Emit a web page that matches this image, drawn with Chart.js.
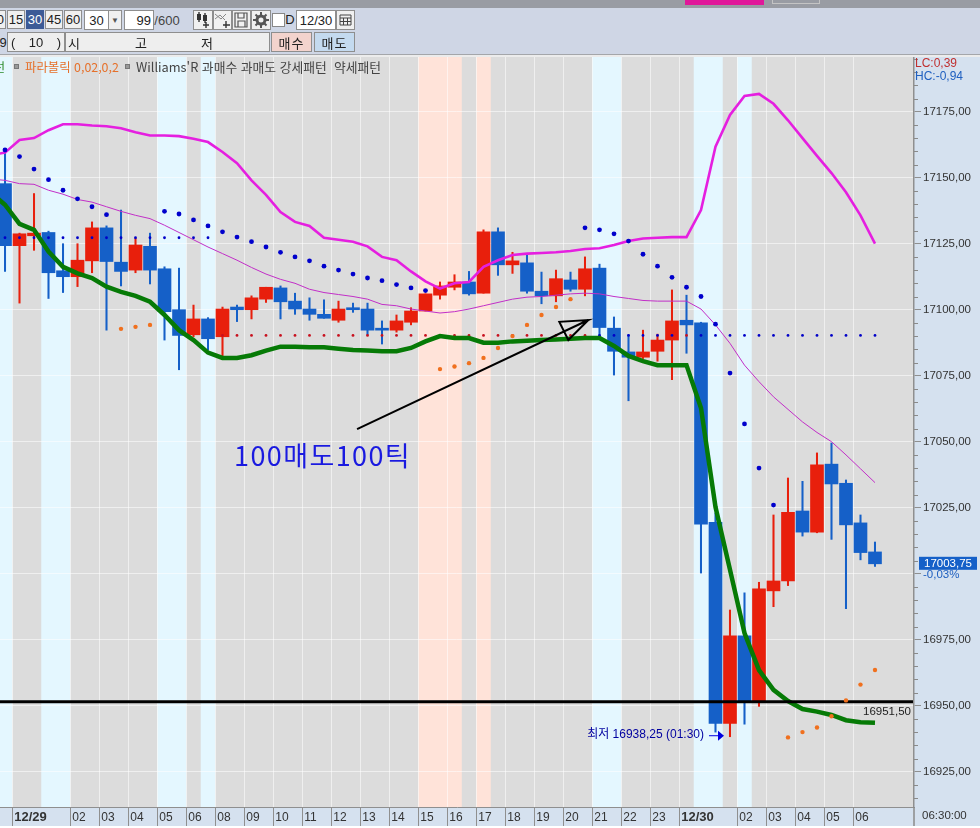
<!DOCTYPE html>
<html lang="ko"><head><meta charset="utf-8">
<script src="https://cdn.jsdelivr.net/npm/chart.js@4"></script>
<style>
html,body{margin:0;padding:0;width:980px;height:828px;overflow:hidden;background:#fff}
#c{position:absolute;left:0;top:0}
.t{position:absolute;box-sizing:border-box;font:13px "Liberation Sans","Noto Sans CJK KR",sans-serif;color:#222;white-space:pre;display:flex;align-items:center;justify-content:center}
.b{border:1px solid #8e8e8e;background:#f0f0f0}
.k{font-family:"Noto Sans CJK KR",sans-serif;font-size:13px}
</style></head><body>
<canvas id="c" width="980" height="828"></canvas>
<div class="t" style="left:0;top:0;width:980px;height:8px;background:#999ca3"></div>
<div class="t" style="left:685px;top:0;width:79px;height:5px;background:#e0189a"></div>
<div class="t" style="left:772px;top:0;width:48px;height:4px;border:1px solid #c4c4c4;border-top:0"></div>
<div class="t" style="left:0;top:8px;width:980px;height:46px;background:#cfd6e5"></div>
<div class="t" style="left:0;top:54px;width:980px;height:1px;background:#a4a6aa"></div>
<div class="t" style="left:0;top:55px;width:980px;height:2px;background:#ececec"></div>
<div class="t b" style="left:-12px;top:10px;width:18px;height:19px;justify-content:flex-end;padding-right:1px">0</div>
<div class="t b" style="left:7px;top:10px;width:18px;height:19px">15</div>
<div class="t" style="left:26px;top:10px;width:18px;height:19px;background:#3c5a96;color:#fff">30</div>
<div class="t b" style="left:45px;top:10px;width:18px;height:19px">45</div>
<div class="t b" style="left:64px;top:10px;width:18px;height:19px">60</div>
<div class="t b" style="left:84px;top:10px;width:25px;height:20px;background:#fff">30</div>
<div class="t b" style="left:108px;top:10px;width:14px;height:20px;font-size:8px;color:#555">▼</div>
<div class="t b" style="left:124px;top:10px;width:30px;height:20px;background:#fff;justify-content:flex-end;padding-right:2px">99</div>
<div class="t" style="left:155px;top:10px;width:24px;height:20px;color:#444">/600</div>
<div class="t b" style="left:193px;top:10px;width:20px;height:20px"><svg width="18" height="18"><rect x="3" y="3" width="4" height="6" fill="#333"/><rect x="9" y="4" width="4" height="6" fill="#333"/><path d="M5 1V11M11 2V12M12 11V17M9 14H15" stroke="#333" stroke-width="1.4" fill="none"/></svg></div>
<div class="t b" style="left:213px;top:10px;width:19px;height:20px"><svg width="17" height="18"><path d="M1 3L7 8L12 3M1 8L6 4L11 9" stroke="#888" fill="none"/><path d="M12 10V17M9 14H16" stroke="#333" stroke-width="1.4"/></svg></div>
<div class="t b" style="left:232px;top:10px;width:19px;height:20px"><svg width="17" height="18"><path d="M2 2H14V16H2Z M5 2V7H11V2 M5 16V10H12V16" stroke="#555" stroke-width="1.2" fill="none"/></svg></div>
<div class="t b" style="left:251px;top:10px;width:20px;height:20px"><svg width="18" height="18"><circle cx="9" cy="9" r="4" stroke="#555" stroke-width="3" fill="none"/><path d="M9 1V4M9 14V17M1 9H4M14 9H17M3.5 3.5L5.5 5.5M12.5 12.5L14.5 14.5M3.5 14.5L5.5 12.5M12.5 5.5L14.5 3.5" stroke="#555" stroke-width="2"/></svg></div>
<div class="t" style="left:272px;top:13px;width:13px;height:14px;background:#fff;border:1px solid #888"></div>
<div class="t" style="left:286px;top:10px;width:8px;height:18px">D</div>
<div class="t b" style="left:296px;top:10px;width:40px;height:20px;background:#fff">12/30</div>
<div class="t b" style="left:336px;top:10px;width:19px;height:20px"><svg width="15" height="14"><path d="M2 2H13V12H2Z M2 5H13 M2 8.5H13 M5.5 5V12 M9.5 5V12" stroke="#444" fill="none"/></svg></div>
<div class="t" style="left:0;top:32px;width:6px;height:20px">9</div>
<div class="t b" style="left:7px;top:32px;width:58px;height:20px;background:#eeeeee;justify-content:space-between;padding:0 3px"><span>(</span><span>10</span><span>)</span></div>
<div class="t b k" style="left:65px;top:32px;width:205px;height:20px;background:#eeeeee"></div>
<div class="t k" style="left:67px;top:32px;width:14px;height:20px">시</div>
<div class="t k" style="left:134px;top:32px;width:14px;height:20px">고</div>
<div class="t k" style="left:200px;top:32px;width:14px;height:20px">저</div>
<div class="t b k" style="left:271px;top:32px;width:41px;height:20px;background:#f3d3cd;letter-spacing:1px">매수</div>
<div class="t b k" style="left:314px;top:32px;width:41px;height:20px;background:#c4daef;letter-spacing:1px">매도</div>
<div class="t k" style="left:-6px;top:59px;height:15px;font-size:12px;color:#2a8a2a">선</div>
<div class="t" style="left:14px;top:64px;width:5px;height:5px;background:#999;border:1px solid #777"></div>
<div class="t k" style="left:25px;top:59px;height:15px;font-size:12.4px;color:#e6702a">파라볼릭 0,02,0,2</div>
<div class="t" style="left:125px;top:64px;width:5px;height:5px;background:#999;border:1px solid #777"></div>
<div class="t k" style="left:136px;top:59px;height:15px;font-size:12.8px;color:#444">Williams'R 과매수 과매도 강세패턴  약세패턴</div>
<script>
const opens=[17147.75,17124.25,17128,17129.25,17114.75,17112.5,17118.5,17131,17118,17115,17124,17115.5,17100,17090.5,17096.5,17089.75,17101,17100,17104,17108.25,17103.25,17100.25,17098.25,17096,17100.75,17100.25,17093,17092.25,17095.25,17099.5,17105.5,17108.5,17110.5,17106.25,17129.5,17117,17117.75,17107,17105.25,17111.25,17107.75,17115.75,17093,17084,17082,17084.25,17088.5,17096,17095,17019.5,16943.25,16976.5,16951.5,16993.5,16997.25,17023.75,17015.75,17041.5,17034.25,17019.25,17008.25];
const closes=[17124.25,17128.75,17129,17114,17112.5,17118.75,17131,17118.25,17114.5,17124.5,17115,17099.25,17090.25,17096.5,17089,17100.25,17100,17104.5,17108.5,17103,17100.25,17098.25,17096.75,17100.25,17100,17092.25,17092.25,17095.75,17099.5,17106,17109,17110.5,17106,17129.5,17117,17118.5,17107,17105.25,17111.75,17107.75,17115.5,17093.25,17084.25,17082,17084,17088.5,17095.75,17094.25,17018.75,16943.25,16976.5,16951.5,16994.25,16997.25,17023.25,17015.75,17041.25,17034,17018.5,17008,17003.75];
const highs=[17159.75,17129,17144,17129.75,17125,17125,17133.25,17131.75,17137.75,17127,17129,17116.25,17115.75,17101.75,17097,17101,17101.75,17105.25,17108.5,17109,17106.25,17104.5,17103.75,17103.25,17102.5,17102.5,17095.75,17098,17100.75,17106,17110.5,17113.25,17114.5,17130.25,17131,17121.75,17120.75,17114.25,17115,17114.25,17120,17117.25,17097.25,17090.5,17092.25,17090.75,17107.5,17105.5,17095.25,17023,16986.25,16992.75,16996.75,17022.25,17036.25,17035,17045.75,17049.5,17035.5,17022.25,17012];
const lows=[17114.5,17102.5,17122.5,17104.25,17106.5,17108.75,17114,17092.25,17109,17114,17109.75,17088.5,17077.25,17089.75,17084.75,17082.25,17095.5,17096.5,17102.75,17096.5,17098.25,17096,17096.75,17095.25,17099,17090.5,17087,17091.5,17094.25,17099.5,17104,17107.5,17105.5,17106.25,17113,17113.75,17106.25,17102.25,17103,17107,17105.25,17090,17075.25,17065.5,17081.5,17080.5,17073.5,17083.5,17000.25,16940,16938.25,16943,16949.75,16987.5,16995.5,17014.25,17015.5,17013,16986.75,17005.25,17002.75];
// moving lines: first value belongs to index -1 (just left of the visible edge)
const greenMA=[17144.5,17139.75,17132.5,17130.25,17122,17116.25,17113.75,17112,17108.75,17106.75,17105.25,17103,17098,17092.25,17088.5,17083.75,17081.75,17081.75,17082.75,17084.5,17086,17086,17085.75,17085.75,17085.25,17084.75,17084.5,17084.25,17084.25,17085.5,17088,17090,17089.25,17089.25,17087.5,17087.5,17088,17088.25,17088.5,17088.75,17089,17089.25,17089.25,17086.25,17082.5,17080.5,17079,17079,17079,17062.75,17025.25,17001.5,16977.5,16963.5,16956,16951.75,16948.75,16947.75,16946.5,16944.5,16943.75,16943.5];
const upperBand=[17158.5,17159.5,17164.25,17165,17168,17170.25,17170.25,17169.75,17169.5,17168.75,17167.25,17166,17166,17165.75,17164.75,17163.5,17159.75,17155.5,17149,17143.5,17137,17133.25,17131.75,17127.25,17126.5,17125.75,17124,17120,17118.75,17114.5,17110.75,17108,17110,17110.5,17116.25,17118.75,17120.75,17121.25,17121.5,17121.75,17122.25,17123,17123.25,17124.5,17126,17127,17127.25,17127.5,17127.5,17137.75,17161.75,17173.75,17181,17181.75,17178,17171.75,17165,17158.25,17151.75,17144.5,17135.75,17125];
const thinMA=[17149.5,17149,17147.75,17147.5,17145.25,17143.75,17141.75,17140.75,17139,17137.25,17135.75,17134.5,17132,17129.25,17126.5,17123.75,17121.25,17118.75,17116,17113.5,17111.5,17110,17107.75,17106.5,17105.75,17105,17104,17102,17101.5,17100.25,17099.5,17098.75,17099.25,17100.25,17101.5,17102.75,17104,17104.75,17105,17105.5,17106,17106.25,17106,17105,17104.25,17103.5,17103.25,17103.25,17103.25,17100.25,17094.25,17087.25,17079,17072.75,17067,17062.25,17057.5,17053.5,17050,17045,17039.75,17034.5];
const sarBlueIdx=[0,1,2,3,4,5,6,7,11,12,13,14,15,16,17,18,19,20,21,22,23,24,25,26,27,28,29,40,41,42,43,44,45,46,47,48,49,50,51,52,53];
const sarBlueVal=[17160.5,17158,17153.25,17149.25,17145.25,17142,17139,17136,17137.25,17136.25,17134,17131.75,17129.5,17127.5,17125.75,17123.75,17121.75,17120,17118.5,17116.5,17115,17113.5,17112,17111,17109.5,17108.25,17107.25,17131,17130.25,17128.75,17126,17121,17116.5,17112.25,17108.5,17105,17094.5,17076,17056.75,17040,17026];
const sarOrangeIdx=[8,9,10,30,31,32,33,34,35,36,37,38,39,54,55,56,57,58,59,60];
const sarOrangeVal=[17092.75,17093.5,17094.25,17077.5,17078.5,17079.75,17081.75,17085.5,17090,17094.25,17098,17101,17104,16938,16940,16941.75,16946,16952,16958,16963.5];
const stopHighIdx=[0,1,2,3,4,5,6,7,8,9,10,11,12,13,14];
const stopHighLevel=17127.25;
const stopRedIdx=[15,16,17,18,19,20,21,22,23,24,25,26,27,28,29,30,31,32,33,34,35,36,37,38,39,40,47];
const stopBlueIdx=[41,42,43,44,45,46,48,49,50,51,52,53,54,55,56,57,58,59,60];
const stopLowLevel=17090.25;
const lowPrice=16938.25, lowIndex=50, lineLevel=16951.5, lastPrice=17003.75;
const trendArrow=[[24.28,17054.75],[40.23,17096.1],[38.23,17095.4],[38.85,17088.5],[40.23,17096.1]];
const yTicks=[16925,16950,16975,17000,17025,17050,17075,17100,17125,17150,17175];
const hiddenLabel=17000;
const yMinor=[16915,16920,16930,16935,16940,16945,16955,16960,16965,16970,16980,16985,16990,16995,17005,17010,17015,17020,17030,17035,17040,17045,17055,17060,17065,17070,17080,17085,17090,17095,17105,17110,17115,17120,17130,17135,17140,17145,17155,17160,17165,17170,17180,17185,17190,17195];
const xTickPos=[0.5,4.5,6.5,8.5,10.5,12.5,14.5,16.5,18.5,20.5,22.5,24.5,26.5,28.5,30.5,32.5,34.5,36.5,38.5,40.5,42.5,44.5,46.5,50.5,52.5,54.5,56.5,58.5];
const xTickText=['12/29','02','03','04','05','06','08','09','10','11','12','13','14','15','16','17','18','19','20','21','22','23','12/30','02','03','04','05','06'];
const blueBands=[[-1,0.5],[2.5,4.5],[10.5,12.5],[13.5,14.5],[40.5,42.5],[47.5,49.5],[50.5,51.5]];
const pinkBands=[[28.5,31.5],[32.5,33.5]];
const xMin=-0.345,xMax=62.69,yMin=16911.63,yMax=17195.72;

const RED='#e81f0c',BLUE='#1560c8';
const isUp=i=>closes[i]>=opens[i];
const FONT='"Liberation Sans",sans-serif';
const panel={id:'panel',
 beforeDraw(ch){
  const c=ch.ctx,a=ch.chartArea,x=ch.scales.x;
  c.save();
  c.fillStyle='#dcdcdc';c.fillRect(a.left,a.top,a.right-a.left,a.bottom-a.top);
  const band=(list,col)=>{c.fillStyle=col;list.forEach(b=>{const l=Math.max(x.getPixelForValue(b[0]),a.left),r=x.getPixelForValue(b[1]);c.fillRect(l,a.top,r-l,a.bottom-a.top);});};
  band(blueBands,'#e4f7ff');band(pinkBands,'#ffe3d9');
  c.fillStyle='#d5e1ef';
  c.fillRect(a.right,a.top,980-a.right,a.bottom-a.top);
  c.fillRect(0,a.bottom,980,19);
  c.restore();
 },
 afterDraw(ch){
  const c=ch.ctx,a=ch.chartArea,x=ch.scales.x,y=ch.scales.y;
  c.save();
  c.strokeStyle='#8a8a8a';c.lineWidth=1;
  yMinor.forEach(v=>{const p=Math.round(y.getPixelForValue(v))+.5;c.beginPath();c.moveTo(a.right,p);c.lineTo(a.right+4,p);c.stroke();});
  c.textBaseline='middle';c.textAlign='left';
  c.font='27px "Noto Sans CJK KR",sans-serif';c.fillStyle='#1a1ae0';
  try{c.letterSpacing='1.4px'}catch(e){}
  c.fillText('100매도100틱',234,456);
  try{c.letterSpacing='0px'}catch(e){}
  c.font='12px '+FONT+',"Noto Sans CJK KR"';
  const px=x.getPixelForValue(lowIndex),py=y.getPixelForValue(lowPrice);
  c.fillStyle='#0000a0';c.textAlign='right';
  c.fillText('최저 16938,25 (01:30)',px-26,py-2);
  c.strokeStyle='#0000e0';c.lineWidth=1;c.beginPath();c.moveTo(px-21,py-1);c.lineTo(px-8,py-1);c.stroke();
  c.fillStyle='#0000e0';c.beginPath();c.moveTo(px-6,py-1);c.lineTo(px-12,py-6);c.lineTo(px-12,py+4);c.closePath();c.fill();
  const ly=y.getPixelForValue(lineLevel);
  c.font='11.5px '+FONT;
  c.fillStyle='#222';c.fillText('16951,50',911,ly+10);
  c.textAlign='left';
  c.font='12px '+FONT;
  c.fillStyle='#c03030';c.fillText('LC:0,39',915,64);
  c.fillStyle='#2060c0';c.fillText('HC:-0,94',915,77);
  c.font='11.5px '+FONT;
  const pp=y.getPixelForValue(lastPrice);
  c.fillStyle=BLUE;c.fillRect(919,pp-7,58,13);
  c.fillStyle='#fff';c.fillText('17003,75',924,pp);
  c.fillStyle='#2060c0';c.fillText('-0,03%',923,pp+11.5);
  c.fillStyle='#333';c.fillText('06:30:00',922,816);
  c.strokeStyle='#8a8a8a';c.lineWidth=1.5;c.beginPath();c.moveTo(914,a.bottom);c.lineTo(914,826);c.stroke();
  c.restore();
 }};
const pts=(idx,val)=>idx.map((i,k)=>({x:i,y:Array.isArray(val)?val[k]:val}));
const linePts=arr=>arr.map((v,k)=>({x:k-1,y:v}));
const dots=(idx,val,col,r,order)=>({type:'line',data:pts(idx,val),showLine:false,pointRadius:r,pointBackgroundColor:col,pointBorderWidth:0,order});
const line=(arr,col,w,order)=>({type:'line',data:linePts(arr),borderColor:col,borderWidth:w,pointRadius:0,tension:0,order});
new Chart(document.getElementById('c'),{
 type:'bar',
 plugins:[panel],
 data:{datasets:[
  {data:highs.map((h,i)=>({x:i,y:[lows[i],h]})),backgroundColor:highs.map((h,i)=>isUp(i)?RED:BLUE),barThickness:1.4,grouped:false,borderWidth:0,borderSkipped:false,order:20},
  {data:opens.map((o,i)=>({x:i,y:[o,closes[i]]})),backgroundColor:opens.map((o,i)=>isUp(i)?RED:BLUE),barThickness:13,grouped:false,borderWidth:0,borderSkipped:false,order:19},
  line(thinMA,'#c22fc8',1,10),
  line(upperBand,'#e51fe0',2.6,9),
  line(greenMA,'#067a06',4.5,5),
  dots(stopHighIdx,stopHighLevel,'#0000c8',1.4,8),
  dots(stopRedIdx,stopLowLevel,'#c8101e',1.4,8),
  dots(stopBlueIdx,stopLowLevel,'#0000c8',1.4,8),
  dots(sarBlueIdx,sarBlueVal,'#0000cc',2.4,1),
  dots(sarOrangeIdx,sarOrangeVal,'#f0701e',2.2,1),
  {type:'line',data:[{x:xMin,y:lineLevel},{x:62.62,y:lineLevel}],borderColor:'#000',borderWidth:3,pointRadius:0,order:3},
  {type:'line',data:trendArrow.map(p=>({x:p[0],y:p[1]})),borderColor:'#000',borderWidth:2,pointRadius:0,tension:0,order:2}
 ]},
 options:{
  responsive:false,animation:false,devicePixelRatio:1,
  layout:{autoPadding:false,padding:{top:57,left:0,right:0,bottom:0}},
  plugins:{legend:{display:false},tooltip:{enabled:false}},
  scales:{
   x:{type:'linear',min:xMin,max:xMax,offset:false,
    grid:{offset:false,color:'rgba(255,255,255,.55)',lineWidth:1,tickColor:'#8f8f8f',tickLength:19,drawTicks:true},
    border:{color:'#8f8f8f',width:1},
    afterBuildTicks(s){s.ticks=xTickPos.map(v=>({value:v}));},
    afterFit(s){s.height=21;},
    ticks:{autoSkip:false,maxRotation:0,minRotation:0,align:'start',labelOffset:2,padding:-16,color:'#333',
      font:c=>(c.tick&&(c.tick.value===0.5||c.tick.value===46.5))?{family:FONT,size:13,weight:'bold'}:{family:FONT,size:12},
      callback(v){const i=xTickPos.indexOf(v);return i<0?'':xTickText[i];}}
   },
   y:{type:'linear',position:'right',min:yMin,max:yMax,
    grid:{color:'rgba(255,255,255,.55)',lineWidth:1,tickColor:'#8f8f8f',tickLength:7},
    border:{color:'#8f8f8f',width:1.5},
    afterBuildTicks(s){s.ticks=yTicks.map(v=>({value:v}));},
    afterFit(s){s.width=66;},
    ticks:{autoSkip:false,padding:2,color:'#333',font:{family:FONT,size:11.5},callback:v=>v===hiddenLabel?'':v.toFixed(2).replace('.',',')}
   }
  }
 }
});
</script></body></html>
